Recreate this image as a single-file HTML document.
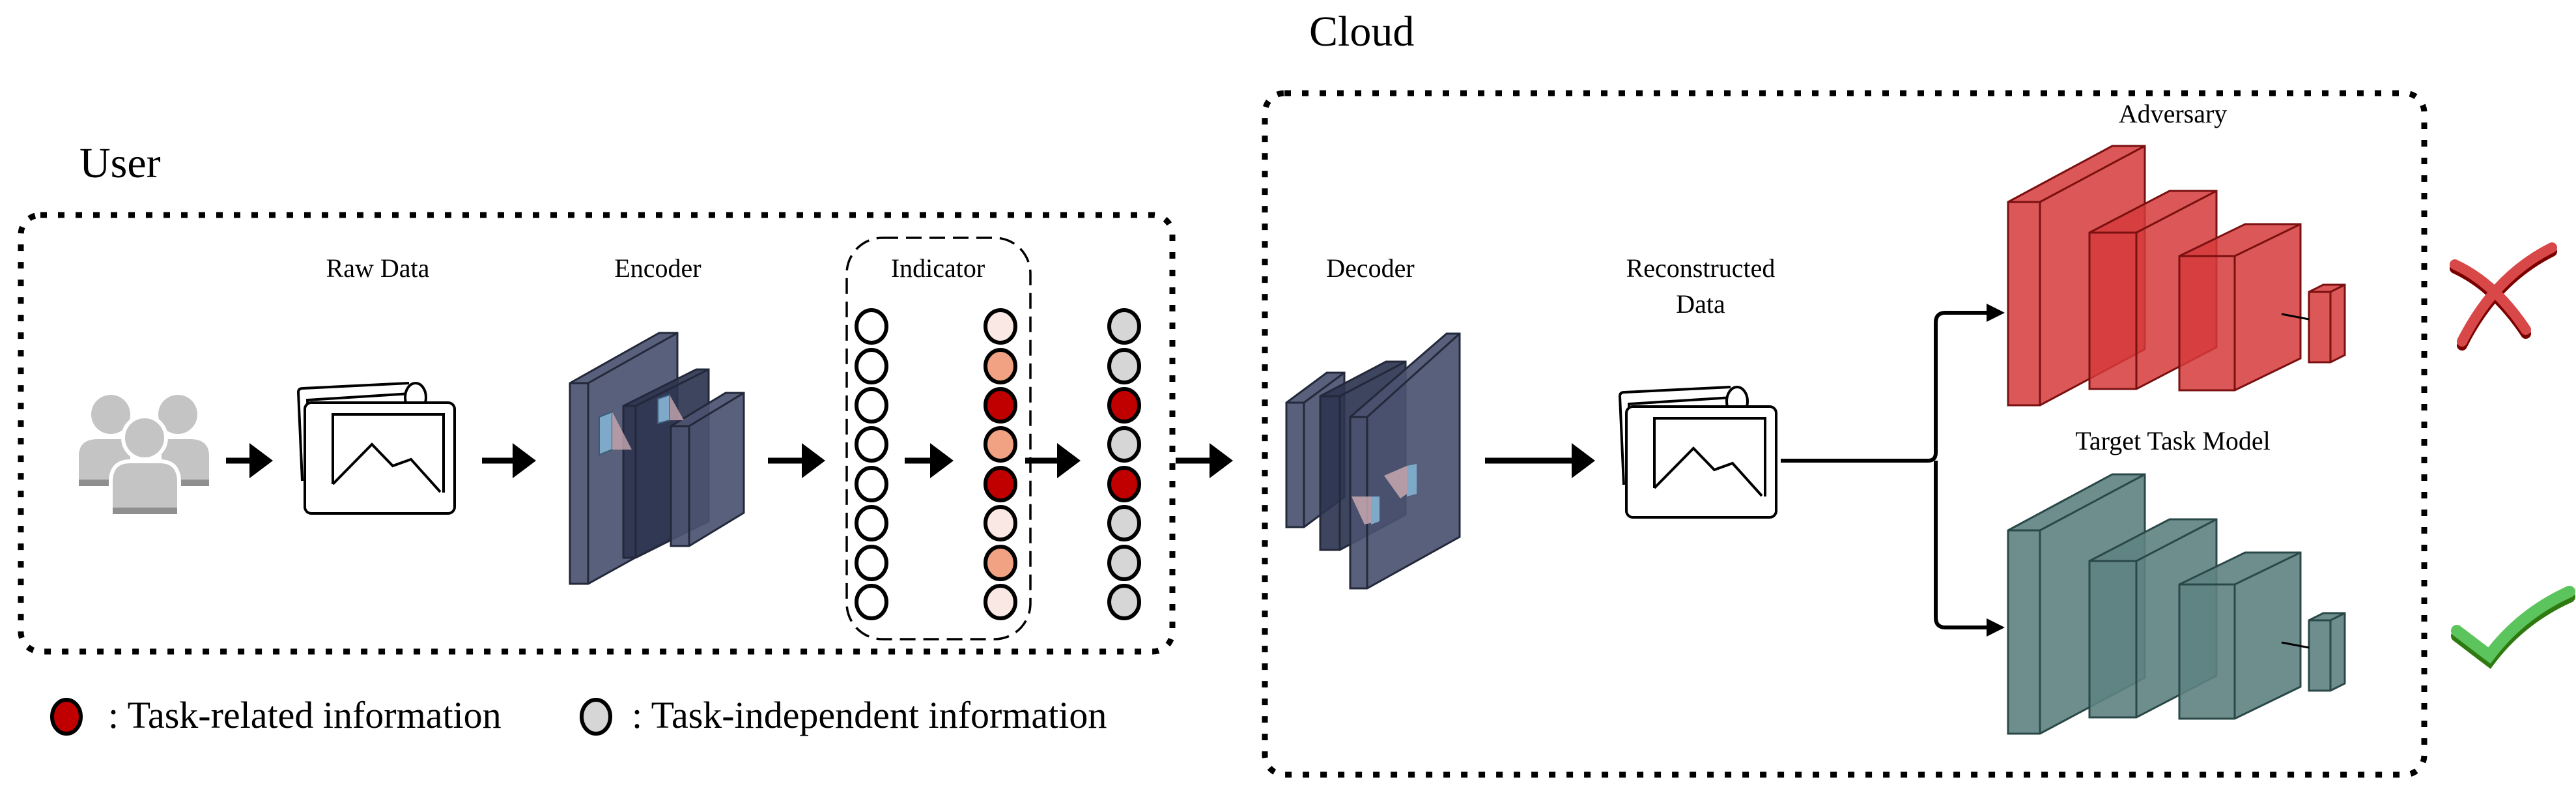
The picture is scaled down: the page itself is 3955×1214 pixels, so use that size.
<!DOCTYPE html>
<html><head><meta charset="utf-8"><style>
html,body{margin:0;padding:0;background:#fff;}
svg{display:block;}
</style></head><body>
<svg width="3955" height="1214" viewBox="0 0 3955 1214" xmlns="http://www.w3.org/2000/svg" font-family="'Liberation Serif', serif">
<defs>
<marker id="ah" markerWidth="6" markerHeight="6" refX="3" refY="3" orient="auto" markerUnits="strokeWidth">
<path d="M0,0 L4,3 L0,6 z" fill="#000"/></marker>
<g id="img">
<path d="M8,150 L2,14 Q2,8 9,8 L172,0" fill="none" stroke="#000" stroke-width="4"/>
<path d="M20,160 L16,26 L174,16" fill="none" stroke="#000" stroke-width="4"/>
<ellipse cx="182" cy="22" rx="16" ry="22" fill="#fff" stroke="#000" stroke-width="4"/>
<rect x="12" y="30" width="230" height="170" rx="10" fill="#fff" stroke="#000" stroke-width="4"/>
<path d="M55,155 L55,48 L225,48 L225,168" fill="none" stroke="#000" stroke-width="4"/>
<path d="M55,155 L115,94 L147,127 L175,117 L220,167" fill="none" stroke="#000" stroke-width="4"/>
</g>
</defs>

<text x="122" y="272" font-size="66" font-family="'Liberation Serif', serif">User</text>
<text x="2010" y="70" font-size="66" font-family="'Liberation Serif', serif">Cloud</text>

<rect x="32" y="330" width="1768" height="670" rx="30" fill="none" stroke="#000" stroke-width="9" stroke-dasharray="10 17"/>
<rect x="1942" y="143" width="1780" height="1046" rx="30" fill="none" stroke="#000" stroke-width="9" stroke-dasharray="10 17"/>
<rect x="1300" y="365" width="282" height="616" rx="55" fill="none" stroke="#000" stroke-width="3.5" stroke-dasharray="24 12"/>

<g font-size="40" text-anchor="middle" font-family="'Liberation Serif', serif">
<text x="580" y="425">Raw Data</text>
<text x="1010" y="425">Encoder</text>
<text x="1440" y="425">Indicator</text>
<text x="2104" y="425">Decoder</text>
<text x="2611" y="425">Reconstructed</text>
<text x="2611" y="480">Data</text>
<text x="3336" y="188">Adversary</text>
<text x="3336" y="690">Target Task Model</text>
</g>

<g fill="#c4c4c4">
<ellipse cx="170" cy="636" rx="30" ry="30"/>
<ellipse cx="273" cy="636" rx="30" ry="30"/>
<path d="M121,746 L121,700 Q121,674 150,674 L200,674 L200,746 z"/>
<path d="M248,746 L248,674 L292,674 Q321,674 321,700 L321,746 z"/>
<rect x="121" y="736" width="79" height="10" fill="#8f8f8f"/>
<rect x="248" y="736" width="73" height="10" fill="#8f8f8f"/>
<ellipse cx="222" cy="672" rx="33" ry="33" stroke="#fff" stroke-width="6"/>
<path d="M170,789 L170,740 Q170,708 200,708 L245,708 Q275,708 275,740 L275,789 z" stroke="#fff" stroke-width="6"/>
<rect x="173" y="779" width="99" height="10" fill="#8f8f8f"/>
</g>

<use href="#img" x="456" y="588"/>
<use href="#img" x="2485" y="594"/>

<g stroke="#23283a" stroke-width="3" fill="#4a5270" fill-opacity="0.92">
<polygon points="875,588 1012,511 1040,511 1040,820 903,896 875,896"/>
<polyline points="875,588 903,588 1040,511" fill="none"/>
<line x1="903" y1="588" x2="903" y2="896"/>
<polygon points="957,623 1069,567 1088,567 1088,800 976,856 957,856" fill="#2e3550"/>
<line x1="976" y1="623" x2="1088" y2="567"/><line x1="957" y1="623" x2="976" y2="623"/><line x1="976" y1="623" x2="976" y2="856"/>
<polygon points="1030,654 1114,603 1142,603 1142,787 1058,838 1030,838"/>
<line x1="1030" y1="654" x2="1058" y2="654"/><line x1="1058" y1="654" x2="1142" y2="603"/><line x1="1058" y1="654" x2="1058" y2="838"/>
</g>
<polygon points="920,640 940,632 940,690 920,698" fill="#7fa9c9" stroke="#3a5a78" stroke-width="2"/>
<polygon points="940,632 970,690 940,690" fill="#c8a8b0" opacity="0.8"/>
<polygon points="1010,612 1028,606 1028,645 1010,650" fill="#7fa9c9" stroke="#3a5a78" stroke-width="2"/>
<polygon points="1028,606 1050,645 1028,645" fill="#c8a8b0" opacity="0.8"/>

<g stroke="#23283a" stroke-width="3" fill="#4a5270" fill-opacity="0.92">
<polygon points="1975,618 2037,572 2064,572 2064,763 2002,809 1975,809"/>
<line x1="1975" y1="618" x2="2002" y2="618"/><line x1="2002" y1="618" x2="2064" y2="572"/><line x1="2002" y1="618" x2="2002" y2="809"/>
<polygon points="2027,608 2128,555 2158,555 2158,790 2057,844 2027,844" fill="#2e3550"/>
<line x1="2027" y1="608" x2="2057" y2="608"/><line x1="2057" y1="608" x2="2158" y2="555"/><line x1="2057" y1="608" x2="2057" y2="844"/>
<polygon points="2073,640 2221,512 2241,512 2241,824 2099,903 2073,903"/>
<line x1="2073" y1="640" x2="2099" y2="640"/><line x1="2099" y1="640" x2="2241" y2="512"/><line x1="2099" y1="640" x2="2099" y2="903"/>
</g>
<polygon points="2075,762 2105,762 2115,800 2095,805" fill="#c8a8b0" opacity="0.85"/>
<polygon points="2105,762 2118,762 2118,800 2105,805" fill="#7fa9c9"/>
<polygon points="2125,730 2160,715 2160,758 2150,765" fill="#c8a8b0" opacity="0.85"/>
<polygon points="2160,715 2175,712 2175,758 2160,762" fill="#7fa9c9"/>

<g stroke="#000" stroke-width="6">
<g fill="#fff">
<ellipse cx="1338" cy="501" rx="23" ry="25"/><ellipse cx="1338" cy="562" rx="23" ry="25"/>
<ellipse cx="1338" cy="622" rx="23" ry="25"/><ellipse cx="1338" cy="682" rx="23" ry="25"/>
<ellipse cx="1338" cy="743" rx="23" ry="25"/><ellipse cx="1338" cy="803" rx="23" ry="25"/>
<ellipse cx="1338" cy="864" rx="23" ry="25"/><ellipse cx="1338" cy="924" rx="23" ry="25"/>
</g>
<ellipse cx="1536" cy="501" rx="23" ry="25" fill="#f9e8e3"/>
<ellipse cx="1536" cy="562" rx="23" ry="25" fill="#f0a282"/>
<ellipse cx="1536" cy="622" rx="23" ry="25" fill="#c00000"/>
<ellipse cx="1536" cy="682" rx="23" ry="25" fill="#f0a282"/>
<ellipse cx="1536" cy="743" rx="23" ry="25" fill="#c00000"/>
<ellipse cx="1536" cy="803" rx="23" ry="25" fill="#f9e8e3"/>
<ellipse cx="1536" cy="864" rx="23" ry="25" fill="#f0a282"/>
<ellipse cx="1536" cy="924" rx="23" ry="25" fill="#f9e8e3"/>
<ellipse cx="1726" cy="501" rx="23" ry="25" fill="#d6d6d6"/>
<ellipse cx="1726" cy="562" rx="23" ry="25" fill="#d6d6d6"/>
<ellipse cx="1726" cy="622" rx="23" ry="25" fill="#c00000"/>
<ellipse cx="1726" cy="682" rx="23" ry="25" fill="#d6d6d6"/>
<ellipse cx="1726" cy="743" rx="23" ry="25" fill="#c00000"/>
<ellipse cx="1726" cy="803" rx="23" ry="25" fill="#d6d6d6"/>
<ellipse cx="1726" cy="864" rx="23" ry="25" fill="#d6d6d6"/>
<ellipse cx="1726" cy="924" rx="23" ry="25" fill="#d6d6d6"/>
</g>

<g stroke="#000" stroke-width="9" marker-end="url(#ah)" fill="none">
<line x1="347" y1="707" x2="410" y2="707"/>
<line x1="740" y1="707" x2="814" y2="707"/>
<line x1="1179" y1="707" x2="1258" y2="707"/>
<line x1="1389" y1="707" x2="1455" y2="707"/>
<line x1="1574" y1="707" x2="1650" y2="707"/>
<line x1="1805" y1="707" x2="1884" y2="707"/>
<line x1="2280" y1="707" x2="2440" y2="707"/>
</g>
<g stroke="#000" stroke-width="6" fill="none">
<path d="M2734,707 L2960,707 Q2972,707 2972,695 L2972,495 Q2972,480 2987,480 L3050,480"/>
<path d="M2972,707 L2972,948 Q2972,963 2987,963 L3050,963"/>
</g>
<polygon points="3050,466 3078,480 3050,494" fill="#000"/>
<polygon points="3050,949 3078,963 3050,977" fill="#000"/>

<g stroke="#7a1010" stroke-width="3" fill="#d6393b" fill-opacity="0.85">
<polygon points="3083,310 3243,224 3293,224 3293,536 3132,622 3083,622"/>
<line x1="3083" y1="310" x2="3132" y2="310"/><line x1="3132" y1="310" x2="3293" y2="224"/><line x1="3132" y1="310" x2="3132" y2="622"/>
<polygon points="3208,357 3331,293 3403,293 3403,533 3280,597 3208,597"/>
<line x1="3208" y1="357" x2="3280" y2="357"/><line x1="3280" y1="357" x2="3403" y2="293"/><line x1="3280" y1="357" x2="3280" y2="597"/>
<polygon points="3346,393 3447,344 3532,344 3532,550 3431,599 3346,599"/>
<line x1="3346" y1="393" x2="3431" y2="393"/><line x1="3431" y1="393" x2="3532" y2="344"/><line x1="3431" y1="393" x2="3431" y2="599"/>
<polygon points="3545,448 3567,437 3600,437 3600,545 3578,556 3545,556"/>
<line x1="3545" y1="448" x2="3578" y2="448"/><line x1="3578" y1="448" x2="3600" y2="437"/><line x1="3578" y1="448" x2="3578" y2="556"/>
<line x1="3503" y1="482" x2="3545" y2="490" stroke="#000"/>
</g>
<g stroke="#2a4848" stroke-width="3" fill="#5e8282" fill-opacity="0.9" transform="translate(0,504)">
<polygon points="3083,310 3243,224 3293,224 3293,536 3132,622 3083,622"/>
<line x1="3083" y1="310" x2="3132" y2="310"/><line x1="3132" y1="310" x2="3293" y2="224"/><line x1="3132" y1="310" x2="3132" y2="622"/>
<polygon points="3208,357 3331,293 3403,293 3403,533 3280,597 3208,597"/>
<line x1="3208" y1="357" x2="3280" y2="357"/><line x1="3280" y1="357" x2="3403" y2="293"/><line x1="3280" y1="357" x2="3280" y2="597"/>
<polygon points="3346,393 3447,344 3532,344 3532,550 3431,599 3346,599"/>
<line x1="3346" y1="393" x2="3431" y2="393"/><line x1="3431" y1="393" x2="3532" y2="344"/><line x1="3431" y1="393" x2="3431" y2="599"/>
<polygon points="3545,448 3567,437 3600,437 3600,545 3578,556 3545,556"/>
<line x1="3545" y1="448" x2="3578" y2="448"/><line x1="3578" y1="448" x2="3600" y2="437"/><line x1="3578" y1="448" x2="3578" y2="556"/>
<line x1="3503" y1="482" x2="3545" y2="490" stroke="#000"/>
</g>

<g stroke-linecap="round" fill="none">
<path d="M3769,412 Q3830,440 3878,512" stroke="#7a0000" stroke-width="16"/>
<path d="M3918,386 Q3830,430 3780,530" stroke="#7a0000" stroke-width="16"/>
<path d="M3769,406 Q3830,434 3878,506" stroke="#d84848" stroke-width="16"/>
<path d="M3918,380 Q3830,424 3780,524" stroke="#d84848" stroke-width="16"/>
<path d="M3772,976 L3822,1014 Q3870,950 3945,916" stroke="#2f7a10" stroke-width="18"/>
<path d="M3772,968 L3822,1006 Q3870,942 3945,908" stroke="#5cc45c" stroke-width="18"/>
</g>

<ellipse cx="102" cy="1100" rx="22" ry="26" fill="#c00000" stroke="#000" stroke-width="6"/>
<text x="166" y="1117" font-size="58" font-family="'Liberation Serif', serif">: Task-related information</text>
<ellipse cx="915" cy="1100" rx="22" ry="26" fill="#d6d6d6" stroke="#000" stroke-width="6"/>
<text x="970" y="1117" font-size="58" font-family="'Liberation Serif', serif">: Task-independent information</text>
</svg>
</body></html>
